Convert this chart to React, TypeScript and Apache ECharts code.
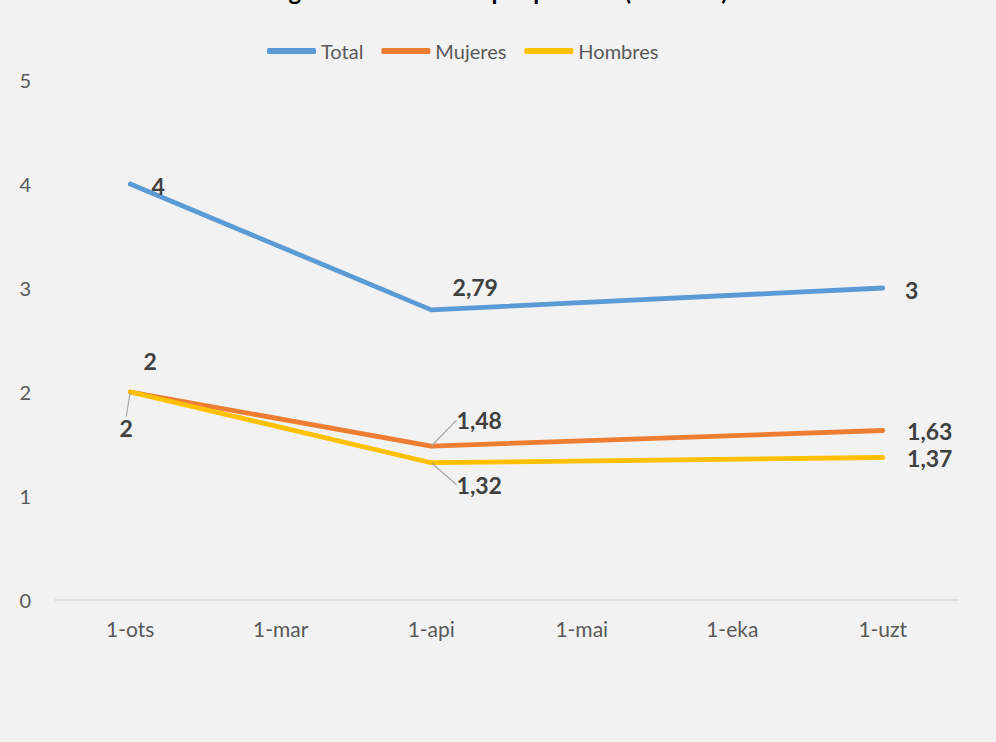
import React, { useEffect, useRef } from "react";
import * as echarts from "echarts";

const titleText = "Ingreso medio diario por persona (en euros)";
const categories = ["1-ots", "1-mar", "1-api", "1-mai", "1-eka", "1-uzt"];
const totalValues: (number | null)[] = [4, null, 2.79, null, null, 3];
const mujeresValues: (number | null)[] = [2, null, 1.48, null, null, 1.63];
const hombresValues: (number | null)[] = [2, null, 1.32, null, null, 1.37];
const yTicks = [0, 1, 2, 3, 4, 5];

// label offsets (dx, dy) per category index; leader = drawn with a leader line
const totalOffsets: Record<number, [number, number]> = { 0: [28, 2], 2: [44, -23], 5: [29, 2] };
const mujeresOffsets: Record<number, [number, number]> = { 0: [20, -31], 2: [48, -26], 5: [47, 1] };
const hombresOffsets: Record<number, [number, number]> = { 0: [-4, 36], 2: [48, 22], 5: [47, 0] };
const leaders: number[][] = [[], [2], [0, 2]];

const fmt = (v: number) => String(v).replace(".", ",");

export default function App() {
  const ref = useRef<HTMLDivElement>(null);
  useEffect(() => {
    if (!ref.current) return;
    const chart = echarts.init(ref.current, null, { renderer: "svg" });
    const offsetsList = [totalOffsets, mujeresOffsets, hombresOffsets];
    const buildData = (values: (number | null)[], s: number) =>
      values.map((v, i) => {
        if (v === null) return null;
        if (leaders[s].indexOf(i) < 0) {
          return { value: v, labelLine: { show: false } };
        }
        return { value: v };
      });
    const labelStyle = {
      show: true,
      position: "inside",
      fontFamily: "Lato",
      fontWeight: "bold",
      fontSize: 23,
      color: "#404040",
      formatter: (p: any) => fmt(p.value),
    };
    const mk = (name: string, values: (number | null)[], color: string, idx: number) => ({
      name,
      type: "line",
      data: buildData(values, idx),
      connectNulls: true,
      symbol: "circle",
      symbolSize: 1,
      showSymbol: true,
      itemStyle: { color },
      lineStyle: { color, width: 4.8, cap: "round", join: "round" },
      label: labelStyle,
      labelLine: { show: true, lineStyle: { color: "#a6a6a6", width: 1.2 }, smooth: false },
      emphasis: { disabled: true },
    });
    chart.setOption({
      animation: false,
      backgroundColor: "#f2f2f2",
      textStyle: { fontFamily: "Lato" },
      title: {
        text: titleText,
        left: "center",
        top: -27,
        textStyle: { fontFamily: "Lato", fontWeight: "bold", fontSize: 24, color: "#000000" },
      },
      legend: {
        top: 36,
        left: 262,
        itemWidth: 49,
        itemHeight: 6,
        itemGap: 18,
        icon: "roundRect",
        textStyle: { fontFamily: "Lato", fontSize: 20, color: "#595959" },
        data: [
          { name: "Total", itemStyle: { color: "#5B9BD5" } },
          { name: "Mujeres", itemStyle: { color: "#ED7D31" } },
          { name: "Hombres", itemStyle: { color: "#FFC000" } },
        ],
      },
      grid: { left: 55, right: 38, top: 80, bottom: 142, containLabel: false },
      xAxis: {
        type: "category",
        data: categories,
        boundaryGap: true,
        axisLine: { lineStyle: { color: "#d9d9d9", width: 1.5 } },
        axisTick: { show: false },
        axisLabel: { color: "#595959", fontSize: 21, margin: 18, fontFamily: "Lato" },
      },
      yAxis: {
        type: "value",
        min: yTicks[0],
        max: yTicks[yTicks.length - 1],
        interval: 1,
        axisLine: { show: false },
        axisTick: { show: false },
        splitLine: { show: false },
        axisLabel: { color: "#595959", fontSize: 20, margin: 24, fontFamily: "Lato" },
      },
      labelLayout: (params: any) => {
        const off = offsetsList[params.seriesIndex][params.dataIndex];
        if (!off) return {};
        return { dx: off[0], dy: off[1] };
      },
      series: [
        mk("Total", totalValues, "#5B9BD5", 0),
        mk("Mujeres", mujeresValues, "#ED7D31", 1),
        mk("Hombres", hombresValues, "#FFC000", 2),
      ],
    });
    return () => chart.dispose();
  }, []);
  return <div ref={ref} style={{ width: 996, height: 742, position: "absolute", left: 0, top: 0 }} />;
}
